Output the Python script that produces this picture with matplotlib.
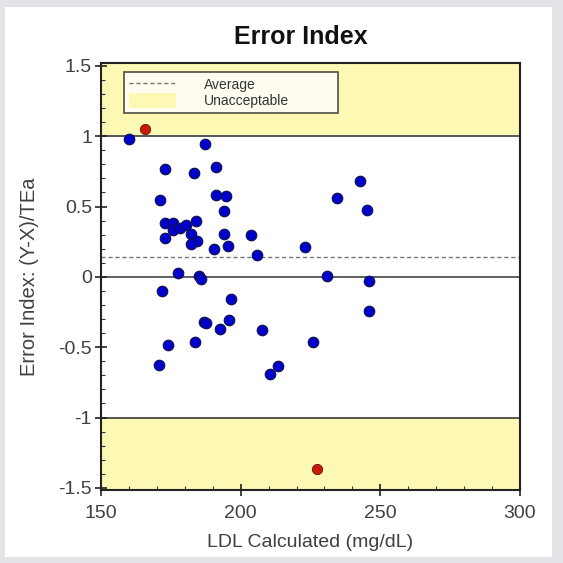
import matplotlib
matplotlib.use("Agg")
import matplotlib.pyplot as plt
from matplotlib.lines import Line2D
from matplotlib.patches import Patch, Rectangle
from matplotlib.ticker import MultipleLocator

plt.rcParams['font.family'] = ['Liberation Sans', 'DejaVu Sans']

# Data
ldl_ok = [160.1, 187.3, 173.0, 183.2, 191.1, 171.1, 191.2, 194.7, 193.9, 173.0,
          175.6, 175.9, 178.2, 180.4, 183.9, 172.9, 182.2, 184.4, 182.2, 193.9,
          203.6, 190.3, 195.6, 206.0, 223.2, 234.6, 242.7, 245.1, 177.5, 185.2,
          185.8, 172.0, 196.7, 187.0, 187.6, 195.9, 192.7, 207.5, 173.9, 183.7,
          170.9, 210.6, 213.5, 226.0, 230.8, 246.1, 245.8]
ei_ok = [0.977, 0.947, 0.765, 0.735, 0.781, 0.544, 0.580, 0.577, 0.468, 0.384,
         0.384, 0.335, 0.345, 0.370, 0.394, 0.278, 0.306, 0.256, 0.230, 0.302,
         0.299, 0.196, 0.218, 0.157, 0.210, 0.560, 0.681, 0.472, 0.026, 0.005,
         -0.014, -0.098, -0.157, -0.322, -0.329, -0.304, -0.370, -0.375, -0.482, -0.465,
         -0.624, -0.690, -0.631, -0.465, 0.009, -0.026, -0.242]
ldl_bad = [165.8, 227.3]
ei_bad = [1.053, -1.367]
average = 0.14
limit = 1.0

x_ticks = [150, 200, 250, 300]
y_ticks = [-1.5, -1, -0.5, 0, 0.5, 1, 1.5]
y_tick_labels = ['-1.5', '-1', '-0.5', '0', '0.5', '1', '1.5']

fig = plt.figure(figsize=(5.63, 5.63), dpi=100, facecolor='#e3e3e8')
fig.patches.append(Rectangle((5/563, 6/563), 547/563, 550/563, transform=fig.transFigure,
                             facecolor='white', edgecolor='none', zorder=-10))
ax = fig.add_axes([101/563, 73/563, 419/563, 427/563])
ax.set_zorder(5)

ymin, ymax = -1.515, 1.52
xmin, xmax = 150, 300
yellow = '#fdf8b4'
ax.axhspan(limit, ymax, color=yellow, zorder=0, lw=0)
ax.axhspan(ymin, -limit, color=yellow, zorder=0, lw=0)
ax.axhline(limit, color='#555555', lw=1.4, zorder=1)
ax.axhline(-limit, color='#555555', lw=1.4, zorder=1)
ax.axhline(0, color='#444444', lw=1.2, zorder=1)
ax.axhline(average, color='#777777', lw=1.0, ls=(0, (3, 2)), zorder=1)

ax.scatter(ldl_ok, ei_ok, s=58, color='#0000cc', edgecolors='#10104a', linewidths=0.8, zorder=3)
ax.scatter(ldl_bad, ei_bad, s=55, color='#cc1a0a', edgecolors='#601010', linewidths=0.6, zorder=3)

ax.set_xlim(xmin, xmax)
ax.set_ylim(ymin, ymax)
ax.set_xticks(x_ticks)
ax.set_yticks(y_ticks)
ax.set_yticklabels(y_tick_labels)
ax.xaxis.set_minor_locator(MultipleLocator(10))
ax.yaxis.set_minor_locator(MultipleLocator(0.1))
ax.tick_params(which='major', direction='inout', length=9, width=1.2, labelsize=14,
               colors='#222222', labelcolor='#404040')
ax.tick_params(which='minor', direction='in', length=3, width=0.8, colors='#333333')
ax.tick_params(axis='x', pad=6)
ax.tick_params(axis='y', pad=2)
for s in ax.spines.values():
    s.set_linewidth(1.5)
    s.set_color('#222222')

ax.set_title('Error Index', fontsize=18, fontweight='bold', pad=14, color='#111111',
             x=0.477)
ax.set_xlabel('LDL Calculated (mg/dL)', fontsize=14, color='#404040', labelpad=9)
ax.set_ylabel('Error Index: (Y-X)/TEa', fontsize=14.5, color='#404040', labelpad=14)

handles = [Line2D([0], [0], color='#777777', lw=1.0, ls=(0, (3, 2))),
           Patch(facecolor=yellow, edgecolor='none')]
leg = ax.legend(handles, ['Average', 'Unacceptable'], loc='lower left',
                bbox_to_anchor=(0.055, 0.883, 0.511, 0.096), mode='expand',
                borderaxespad=0, fontsize=10, frameon=True, fancybox=False,
                handlelength=3.4, handleheight=1.2, labelspacing=0.12,
                borderpad=0.35, handletextpad=2.0)
leg.get_frame().set_edgecolor('#222222')
leg.get_frame().set_linewidth(1.2)
for t in leg.get_texts():
    t.set_color('#333333')

fig.savefig('out.png', dpi=100, facecolor=fig.get_facecolor())
